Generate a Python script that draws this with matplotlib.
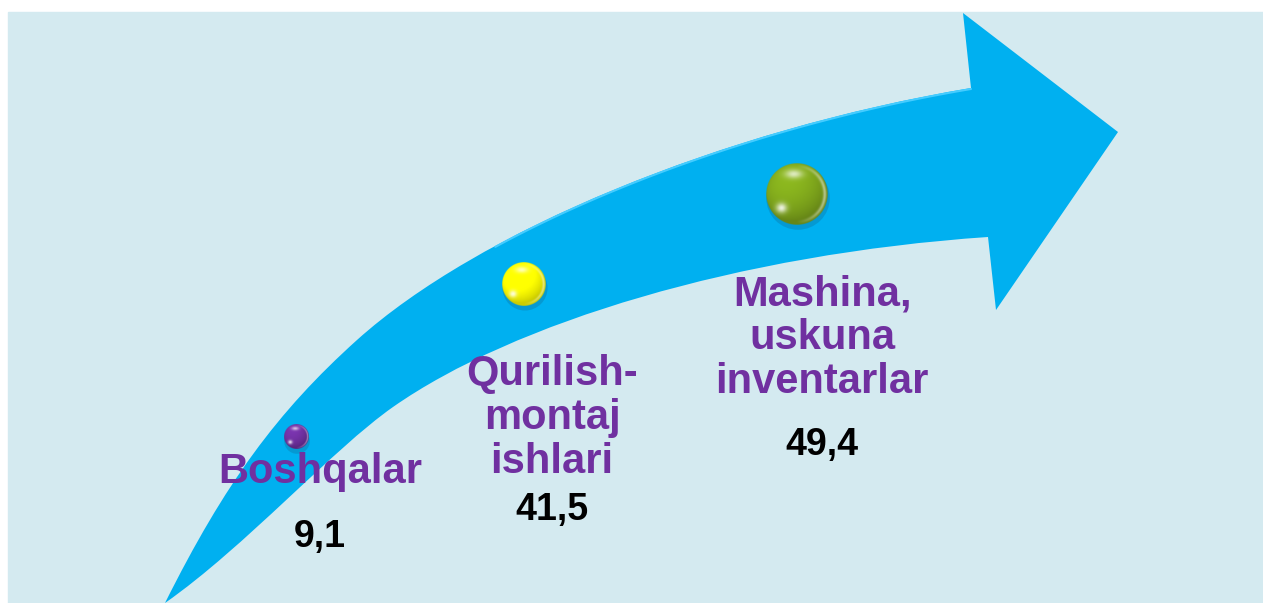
import numpy as np
import matplotlib
matplotlib.use("Agg")
import matplotlib.pyplot as plt
from matplotlib.path import Path
from matplotlib.patches import PathPatch, Rectangle, Ellipse

# data
categories = ["Boshqalar", "Qurilish-\nmontaj\nishlari", "Mashina,\nuskuna\ninventarlar"]
values = [9.1, 41.5, 49.4]
value_labels = ["9,1", "41,5", "49,4"]

# layout (pixel coords, y grows downward)
W, H = 1263, 603
sphere_xy = [(296, 437), (524, 284), (797, 194)]
sphere_r = [12.5, 22, 31]
sphere_colors = ["#7030a0", "#ffff00", "#80a81c"]
label_x = [320, 552, 822]
label_base = [483, 385, 305]
value_base = [547, 520, 455]
line_step = 44

BG = "#d4eaf0"
ARROW = "#00b0f0"
PURPLE = "#7030a0"

# arrow outline: two cubic pieces per edge + head
upper_a = [(165, 603), (225, 483), (277, 412), (357, 340)]
upper_b = [(357, 340), (477, 232), (721, 130), (971, 88)]
lower_a = [(165, 603), (245, 547), (333, 449), (393, 407)]
lower_b = [(393, 407), (513, 323), (738, 254), (988, 237)]
head = [(963, 13), (1118, 132), (996, 310)]


def bez(p, t):
    p = np.array(p, float)
    t = np.asarray(t)[:, None]
    return ((1 - t) ** 3 * p[0] + 3 * (1 - t) ** 2 * t * p[1]
            + 3 * (1 - t) * t ** 2 * p[2] + t ** 3 * p[3])


fig = plt.figure(figsize=(W / 100, H / 100), dpi=100)
ax = fig.add_axes([0, 0, 1, 1])
ax.set_axis_off()

ax.add_patch(Rectangle((8, 12), W - 8, H - 12, color=BG, zorder=0))

verts = (upper_a + upper_b[1:] + head + [lower_b[3]] + lower_b[2::-1]
         + lower_a[2::-1] + [upper_a[0]])
codes = ([Path.MOVETO] + [Path.CURVE4] * 6 + [Path.LINETO] * 4
         + [Path.CURVE4] * 6 + [Path.CLOSEPOLY])
ax.add_patch(PathPatch(Path(verts, codes), facecolor=ARROW, edgecolor="none", zorder=1))

# faint light rim on the upper edge near the head
rim = bez(upper_b, np.linspace(0.3, 1, 80))
ax.plot(rim[:, 0], rim[:, 1] + 1, color="#45ccff", lw=1.5, zorder=2,
        solid_capstyle="round")

# glossy spheres
n = 200
yy, xx = np.mgrid[-1:1:n * 1j, -1:1:n * 1j]
rr = np.sqrt(xx ** 2 + yy ** 2)
zz = np.sqrt(np.clip(1 - rr ** 2, 0, 1))
L = np.array([-0.3, -0.5, 0.8])
L = L / np.linalg.norm(L)
diff = np.clip(xx * L[0] + yy * L[1] + zz * L[2], 0, 1)
spec = 0.7 * np.exp(-((xx + 0.1) ** 2 / 0.08 + (yy + 0.65) ** 2 / 0.02))
refl = 0.85 * np.exp(-((xx + 0.5) ** 2 / 0.03 + (yy - 0.45) ** 2 / 0.025))
rimlight = 0.55 * np.exp(-((rr - 0.9) ** 2) / 0.003) * np.clip(xx, 0, 1)
alpha = np.clip((1 - rr) * n / 2, 0, 1)

for (cx, cy), r, col in zip(sphere_xy, sphere_r, sphere_colors):
    ax.add_patch(Ellipse((cx + 1, cy + 4), 2.05 * r, 2.05 * r, color="#1a4a6a",
                         alpha=0.22, lw=0, zorder=3))
    base = np.array(matplotlib.colors.to_rgb(col))
    img = base[None, None, :] * (0.8 + 0.3 * diff[..., None])
    hl = np.clip(spec + refl + rimlight, 0, 1)[..., None]
    img = np.clip(img * (1 - hl) + hl, 0, 1)
    rgba = np.dstack([img, alpha])
    ax.imshow(rgba, extent=(cx - r, cx + r, cy + r, cy - r), origin="upper",
              aspect="auto", interpolation="bilinear", zorder=4)

# labels
for cat, x, yb in zip(categories, label_x, label_base):
    for i, line in enumerate(cat.split("\n")):
        ax.text(x, yb + i * line_step, line, ha="center", va="baseline",
                fontsize=30, fontweight="bold", color=PURPLE,
                family="Liberation Sans", zorder=5)

for lab, x, yb in zip(value_labels, label_x, value_base):
    ax.text(x, yb, lab, ha="center", va="baseline", fontsize=27,
            fontweight="bold", color="black", family="Liberation Sans", zorder=5)

ax.set_xlim(0, W)
ax.set_ylim(H, 0)
fig.savefig("out.png", dpi=100, facecolor="white")
